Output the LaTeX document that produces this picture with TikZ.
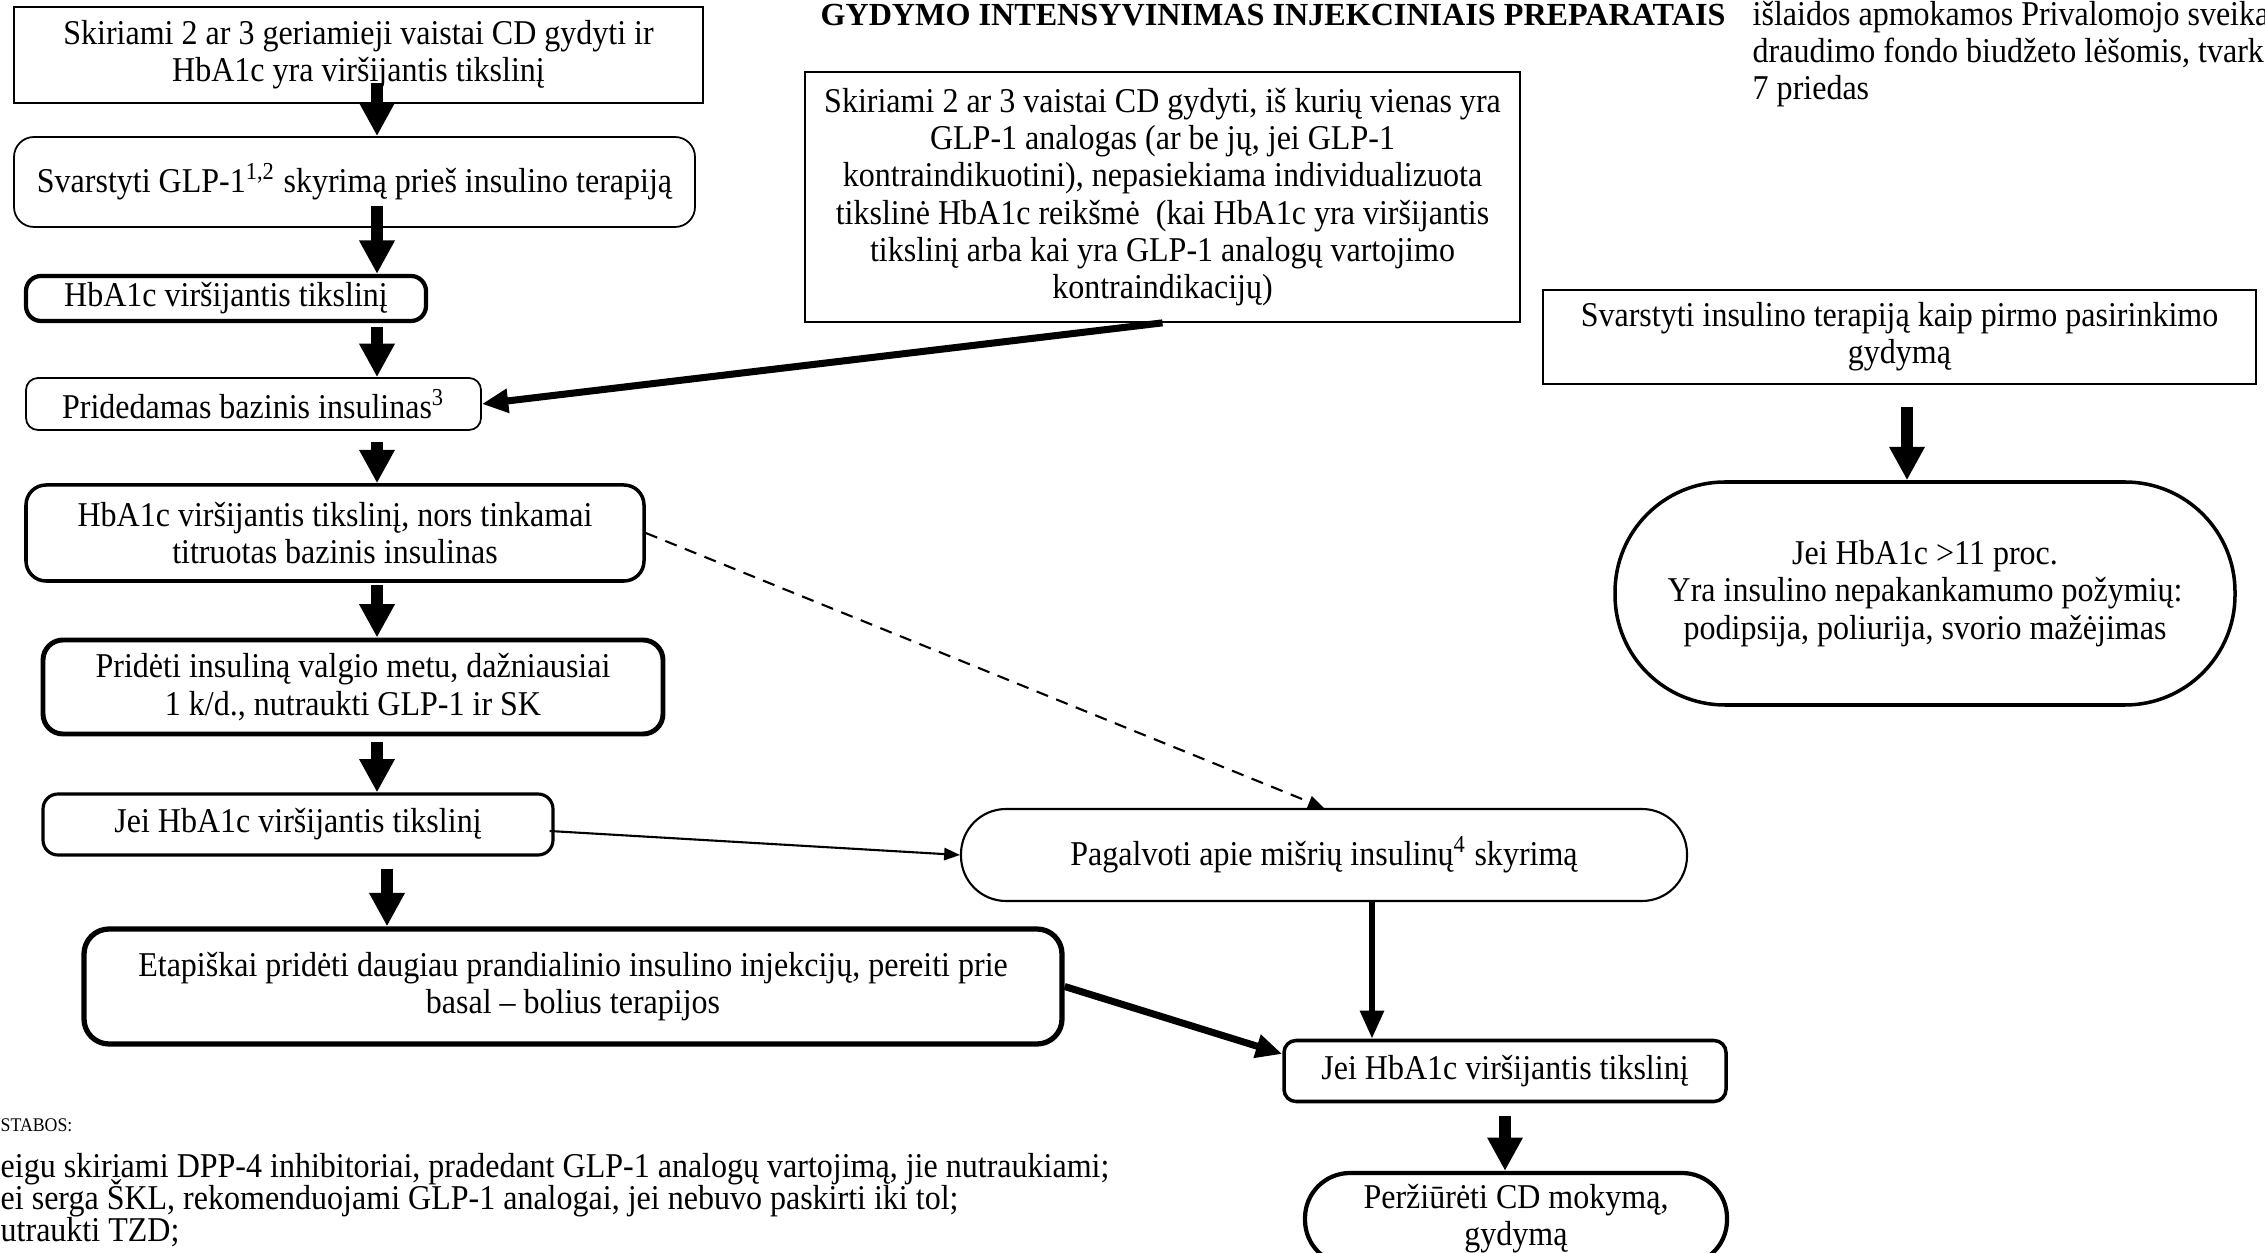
\documentclass[tikz,border=0pt]{standalone}
\usepackage{fontspec}
\setmainfont{Liberation Serif}[FakeStretch=0.92]
\newfontfamily\ttlfont{Liberation Serif}
\usetikzlibrary{arrows.meta,calc}

\begin{document}
\begin{tikzpicture}[x=0.1mm, y=-0.1mm, font=\fontsize{9.9}{10.6}\selectfont,
  blk/.style={draw, line width=0.5pt, align=center, inner sep=0pt},
  rblk/.style={blk, rounded corners=#1}, rblk/.default=2mm,
  txt/.style={anchor=base west, inner sep=0pt},
  arrbig/.style={line width=3.3pt, -{Triangle[length=9.5pt,width=9.5pt]}},
  arrln/.style={line width=2pt, -{Triangle[length=7.5pt,width=6.5pt]}},
  arrmed/.style={line width=1.8pt, -{Triangle[length=8pt,width=6.5pt]}},
  arrsm/.style={line width=0.6pt, -{Triangle[length=4.5pt,width=3.5pt]}}]
\useasboundingbox (0,0) rectangle (2265,1253);
\clip (0,0) rectangle (2265,1253);

% left column
\node[blk, minimum width=68.9mm, minimum height=9.6mm] (ger) at (358.5,55) {Skiriami 2 ar 3 geriamieji vaistai CD gydyti ir\\ HbA1c yra viršijantis tikslinį};
\node[rblk=2mm, minimum width=68.1mm, minimum height=9mm] (glp) at (354.5,182) {Svarstyti GLP-1\textsuperscript{1,2} skyrimą prieš insulino terapiją};
\node[rblk=1.5mm, line width=1.2pt, minimum width=40mm, minimum height=4.5mm] (hb1) at (226,298.5) {HbA1c viršijantis tikslinį};
\node[rblk=1.2mm, minimum width=45.5mm, minimum height=5.2mm] (bas) at (253.5,404) {Pridedamas bazinis insulinas\textsuperscript{3}};
\node[rblk=2mm, line width=1pt, minimum width=61.8mm, minimum height=9.6mm] (hb2) at (335,533) {HbA1c viršijantis tikslinį, nors tinkamai\\ titruotas bazinis insulinas};
\node[rblk=2mm, line width=1.4pt, minimum width=62mm, minimum height=9.4mm] (meal) at (353,687) {Pridėti insuliną valgio metu, dažniausiai\\ 1 k/d., nutraukti GLP-1 ir SK};
\node[rblk=1.5mm, line width=0.9pt, minimum width=51mm, minimum height=6.1mm] (hb3) at (298,824.5) {Jei HbA1c viršijantis tikslinį};
\node[rblk=2.5mm, line width=1.5pt, minimum width=97.8mm, minimum height=11.5mm] (etap) at (573,986.5) {Etapiškai pridėti daugiau prandialinio insulino injekcijų, pereiti prie\\ basal – bolius terapijos};

% middle column
\node[font={\ttlfont\bfseries\fontsize{9.15}{10}\selectfont}, anchor=base, inner sep=0pt] (ttl) at (1273,26) {GYDYMO INTENSYVINIMAS INJEKCINIAIS PREPARATAIS};
\node[blk, minimum width=71.5mm, minimum height=25mm] (cd3) at (1162.5,197) {Skiriami 2 ar 3 vaistai CD gydyti, iš kurių vienas yra\\ GLP-1 analogas (ar be jų, jei GLP-1\\ kontraindikuotini), nepasiekiama individualizuota\\ tikslinė HbA1c reikšmė\ \ (kai HbA1c yra viršijantis\\ tikslinį arba kai yra GLP-1 analogų vartojimo\\ kontraindikacijų)};
\node[rblk=4.5mm, line width=0.6pt, minimum width=72.6mm, minimum height=9.2mm] (mix) at (1324,855) {Pagalvoti apie mišrių insulinų\textsuperscript{4} skyrimą};
\node[rblk=1.2mm, line width=1pt, minimum width=44.2mm, minimum height=6.1mm] (hb4) at (1505,1071) {Jei HbA1c viršijantis tikslinį};
\node[rblk=4.5mm, line width=1.2pt, minimum width=42.2mm, minimum height=9.2mm] (rev) at (1516,1219) {Peržiūrėti CD mokymą,\\ gydymą};

% right column
\node[txt] (pr1) at (1752,26) {išlaidos apmokamos Privalomojo sveika};
\node[txt] (pr2) at (1752,63) {draudimo fondo biudžeto lėšomis, tvark};
\node[txt] (pr3) at (1752,100) {7 priedas};
\node[blk, minimum width=71.3mm, minimum height=9.4mm] (ins) at (1899.5,337) {Svarstyti insulino terapiją kaip pirmo pasirinkimo\\ gydymą};
\node[rblk=11mm, line width=1pt, minimum width=62mm, minimum height=22.3mm] (sev) at (1925,593.5) {Jei HbA1c >11 proc.\\ Yra insulino nepakankamumo požymių:\\ podipsija, poliurija, svorio mažėjimas};

% notes
\node[txt, font=\fontsize{5.5}{6}\selectfont] (nt) at (0,1131) {STABOS:};
\node[txt] (nt1) at (0,1177) {eigu skiriami DPP-4 inhibitoriai, pradedant GLP-1 analogų vartojimą, jie nutraukiami;};
\node[txt] (nt2) at (0,1209) {ei serga ŠKL, rekomenduojami GLP-1 analogai, jei nebuvo paskirti iki tol;};
\node[txt] (nt3) at (0,1241) {utraukti TZD;};

% connectors
\coordinate (lc) at (377,0);
\coordinate (lc2) at (387,0);
\coordinate (jc) at (1372,0);
\coordinate (rc) at (1907,0);
\draw[arrbig] ($(ger.south -| lc)+(0,-21)$) -- (glp.north -| lc);
\draw[arrbig] ($(glp.south -| lc)+(0,-22)$) -- (hb1.north -| lc);
\draw[arrbig] ($(hb1.south -| lc)+(0,4)$) -- (bas.north -| lc);
\draw[arrbig] ($(bas.south -| lc)+(0,11)$) -- (hb2.north -| lc);
\draw[arrbig] ($(hb2.south -| lc)+(0,2)$) -- (meal.north -| lc);
\draw[arrbig] ($(meal.south -| lc)+(0,6)$) -- (hb3.north -| lc);
\draw[arrbig] ($(hb3.south -| lc2)+(0,12)$) -- (etap.north -| lc2);
\draw[arrln] (cd3.south) -- (bas.east);
\draw[arrsm, dash pattern=on 3.5pt off 2.5pt] (hb2.east) -- (mix.north);
\draw[arrsm] ($(hb3.east)+(-5,6.5)$) -- (mix.west);
\draw[arrln] (etap.east) -- ($(hb4.west)+(0,-17)$);
\draw[arrmed] (mix.south -| jc) -- (hb4.north -| jc);
\draw[arrbig] ($(hb4.south)+(0,13)$) -- (rev.north -| hb4.south);
\draw[arrbig] ($(ins.south -| rc)+(0,22)$) -- (sev.north -| rc);
\end{tikzpicture}
\end{document}
